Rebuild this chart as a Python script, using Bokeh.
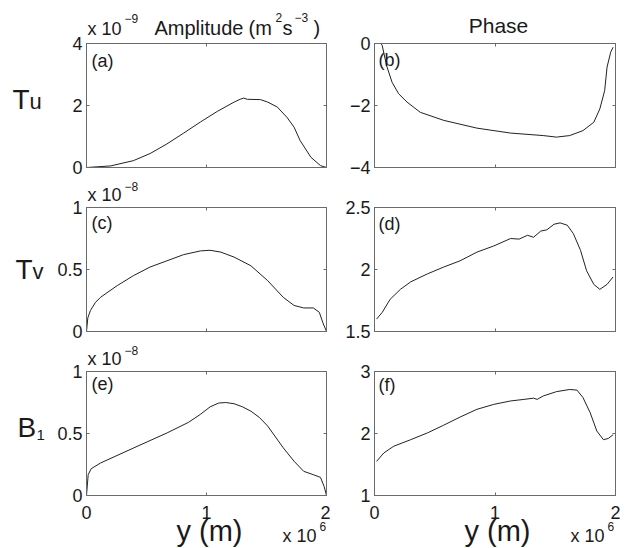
from bokeh.plotting import figure
from bokeh.layouts import column, row
from bokeh.models import FixedTicker, LinearAxis, CustomJSTickFormatter, Range1d
from bokeh.core.properties import value
from bokeh.embed import file_html
from bokeh.resources import INLINE

# ---- data (y in units of 1e6 m) ----
X_TICKS = [0, 1, 2]

y_a = [0, 0.2, 0.39, 0.53, 0.67, 0.81, 0.95, 1.09, 1.23, 1.28, 1.31, 1.34, 1.45, 1.51, 1.59, 1.67, 1.73, 1.78, 1.87, 1.95, 2.0]
amp_a = [0, 0.05, 0.22, 0.45, 0.76, 1.11, 1.47, 1.81, 2.11, 2.2, 2.24, 2.2, 2.19, 2.11, 1.95, 1.62, 1.3, 0.87, 0.33, 0.06, 0]  # x 1e-9

y_b = [0.055, 0.064, 0.10, 0.146, 0.20, 0.27, 0.38, 0.575, 0.85, 1.13, 1.40, 1.51, 1.62, 1.73, 1.82, 1.87, 1.91, 1.93, 1.96, 1.98]
ph_b = [0, -0.065, -0.71, -1.25, -1.62, -1.89, -2.22, -2.48, -2.73, -2.89, -2.97, -3.02, -2.97, -2.81, -2.54, -2.11, -1.52, -0.76, -0.28, -0.12]

y_c = [0, 0.011, 0.033, 0.075, 0.117, 0.256, 0.39, 0.53, 0.67, 0.81, 0.95, 1.03, 1.12, 1.23, 1.37, 1.51, 1.64, 1.73, 1.81, 1.89, 1.94, 1.97, 2.0]
amp_c = [0, 0.11, 0.17, 0.235, 0.276, 0.37, 0.45, 0.52, 0.57, 0.62, 0.65, 0.655, 0.64, 0.60, 0.53, 0.41, 0.275, 0.21, 0.19, 0.19, 0.155, 0.07, 0]  # x 1e-8

y_d = [0.017, 0.064, 0.13, 0.215, 0.30, 0.44, 0.575, 0.71, 0.85, 0.99, 1.13, 1.20, 1.27, 1.32, 1.38, 1.43, 1.49, 1.54, 1.60, 1.65, 1.71, 1.76, 1.82, 1.87, 1.93, 1.98]
ph_d = [1.6, 1.654, 1.76, 1.84, 1.90, 1.965, 2.02, 2.07, 2.14, 2.19, 2.25, 2.245, 2.276, 2.26, 2.31, 2.32, 2.365, 2.376, 2.357, 2.29, 2.154, 1.99, 1.88, 1.84, 1.88, 1.94]

y_e = [0, 0.014, 0.039, 0.117, 0.394, 0.672, 0.85, 0.95, 1.03, 1.10, 1.16, 1.23, 1.30, 1.37, 1.44, 1.51, 1.64, 1.73, 1.81, 1.89, 1.95, 1.98, 2.0]
amp_e = [0, 0.168, 0.216, 0.262, 0.384, 0.505, 0.59, 0.655, 0.715, 0.745, 0.75, 0.74, 0.715, 0.68, 0.63, 0.56, 0.384, 0.276, 0.195, 0.168, 0.146, 0.073, 0]  # x 1e-8

y_f = [0.017, 0.077, 0.16, 0.30, 0.44, 0.575, 0.71, 0.85, 0.99, 1.13, 1.24, 1.32, 1.35, 1.40, 1.51, 1.62, 1.68, 1.73, 1.79, 1.845, 1.90, 1.94, 1.98]
ph_f = [1.55, 1.686, 1.795, 1.90, 2.01, 2.135, 2.265, 2.39, 2.47, 2.525, 2.55, 2.57, 2.55, 2.605, 2.675, 2.71, 2.70, 2.58, 2.335, 2.04, 1.90, 1.92, 1.98]

FONT = "Liberation Sans"
TXT = "#1a1a1a"
FRAME = "#6a6a6a"

fmt_code = "return tick < 0 ? '\\u2212' + String(Math.abs(tick)) : String(tick);"


def lab(p, dx, dy, text, size, align="left"):
    """Text whose baseline sits dx, dy pixels from the frame's bottom-left corner (y up)."""
    dy_eff = dy + 0.4 * size  # empirical correction of the rendered baseline
    p.text(x=[p.x_range.start], y=[p.y_range.start], text=[text],
           x_offset=dx, y_offset=-dy_eff, level="overlay",
           text_font=value(FONT), text_font_size=value(f"{size}px"), text_color=TXT,
           text_align=align, text_baseline="alphabetic")


def hide_labels(ax):
    ax.major_label_text_font_size = "0px"
    ax.major_label_text_color = None
    ax.major_label_standoff = 0


def make_fig(xs, ys, ylo, yhi, yticks, w, h, bl, br, bt, bb, xlabels):
    p = figure(width=w, height=h, x_range=Range1d(0, 2), y_range=Range1d(ylo, yhi),
               output_backend="svg", toolbar_location=None,
               min_border_left=bl, min_border_right=br, min_border_top=bt, min_border_bottom=bb)
    p.line(xs, ys, line_color="#222222", line_width=1)
    p.xgrid.visible = False
    p.ygrid.visible = False
    p.outline_line_color = FRAME
    p.outline_line_width = 1
    p.background_fill_color = "white"
    p.border_fill_color = "white"
    p.xaxis.ticker = FixedTicker(ticks=X_TICKS)
    p.yaxis.ticker = FixedTicker(ticks=yticks)
    p.xaxis.formatter = CustomJSTickFormatter(code=fmt_code)
    p.yaxis.formatter = CustomJSTickFormatter(code=fmt_code)
    top = LinearAxis(ticker=FixedTicker(ticks=X_TICKS))
    right = LinearAxis(ticker=FixedTicker(ticks=yticks))
    p.add_layout(top, "above")
    p.add_layout(right, "right")
    for ax in p.axis:
        ax.major_tick_in = 3
        ax.major_tick_out = 0
        ax.minor_tick_line_color = None
        ax.axis_line_color = FRAME
        ax.major_tick_line_color = FRAME
        ax.major_label_text_font = FONT
        ax.major_label_text_font_size = "18px"
        ax.major_label_text_color = TXT
        ax.major_label_standoff = 4
    for ax in p.below:
        ax.major_label_standoff = 10
    hide_labels(top)
    hide_labels(right)
    if not xlabels:
        for ax in p.below:
            hide_labels(ax)
    return p


W1, W2 = 330, 303
H1, H2, H3 = 179, 164, 205

pa = make_fig(y_a, amp_a, 0, 4, [0, 2, 4], W1, H1, 86, 4, 43, 12, False)
pb = make_fig(y_b, ph_b, -4, 0, [-4, -2, 0], W2, H1, 44, 18, 43, 12, False)
pc = make_fig(y_c, amp_c, 0, 1, [0, 0.5, 1], W1, H2, 86, 4, 28, 12, False)
pd = make_fig(y_d, ph_d, 1.5, 2.5, [1.5, 2, 2.5], W2, H2, 44, 18, 28, 12, False)
pe = make_fig(y_e, amp_e, 0, 1, [0, 0.5, 1], W1, H3, 86, 4, 28, 53, True)
pf = make_fig(y_f, ph_f, 1, 3, [1, 2, 3], W2, H3, 44, 18, 28, 53, True)

# panel tags
lab(pa, 5, 99, "(a)", 18)
lab(pb, 4, 100, "(b)", 18)
lab(pc, 5, 101, "(c)", 18)
lab(pd, 4, 100, "(d)", 18)
lab(pe, 5, 104, "(e)", 18)
lab(pf, 4, 103, "(f)", 18)

# multipliers above amplitude panels
lab(pa, 1, 131, "x 10", 18)
lab(pa, 38, 144, "\u22129", 12)
for p in (pc, pe):
    lab(p, 1, 129, "x 10", 18)
    lab(p, 38, 140, "\u22128", 12)

# column titles
lab(pa, 68, 132, "Amplitude", 20)
lab(pa, 162, 132, "(m", 20)
lab(pa, 189, 145, "2", 12)
lab(pa, 196, 132, "s", 20)
lab(pa, 208, 145, "\u22123", 12)
lab(pa, 227, 132, ")", 20)
lab(pb, 124, 134, "Phase", 21, "center")

# row labels
lab(pa, -74, 57, "T", 28)
lab(pa, -57, 57, "u", 22)
lab(pc, -71, 51, "T", 28)
lab(pc, -54, 51, "v", 22)
lab(pe, -69, 57, "B", 28)
lab(pe, -50, 55, "1", 15)

# x-axis titles and multipliers
for p in (pe, pf):
    lab(p, 90, -47, "y (m)", 29)
    lab(p, 196, -48, "x 10", 18)
    lab(p, 233, -36, "6", 12)

layout = column(row(pa, pb), row(pc, pd), row(pe, pf))

open("out.html", "w").write(file_html(layout, INLINE))
